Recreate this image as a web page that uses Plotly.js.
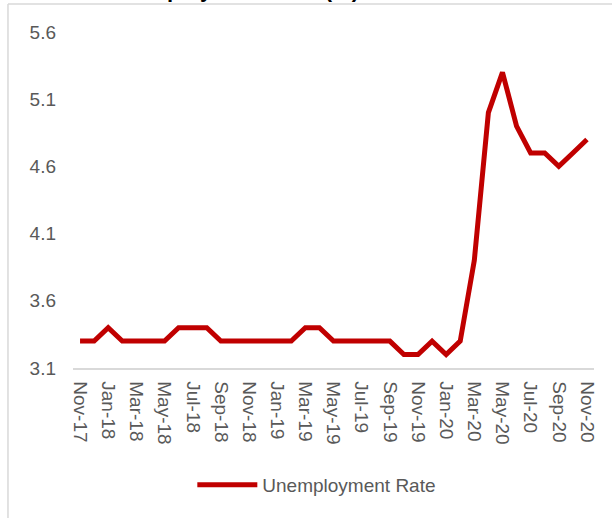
<!DOCTYPE html>
<html>
<head>
<meta charset="utf-8">
<script src="https://cdn.plot.ly/plotly-3.0.1.min.js"></script>
<style>
  html, body { margin: 0; padding: 0; background: #ffffff; }
  #chart { width: 612px; height: 518px; }
</style>
</head>
<body>
<div id="chart"></div>
<script>
const months = [
  "Nov-17","Dec-17","Jan-18","Feb-18","Mar-18","Apr-18","May-18","Jun-18","Jul-18","Aug-18",
  "Sep-18","Oct-18","Nov-18","Dec-18","Jan-19","Feb-19","Mar-19","Apr-19","May-19","Jun-19",
  "Jul-19","Aug-19","Sep-19","Oct-19","Nov-19","Dec-19","Jan-20","Feb-20","Mar-20","Apr-20",
  "May-20","Jun-20","Jul-20","Aug-20","Sep-20","Oct-20","Nov-20"
];
const unemploymentRate = [
  3.3, 3.3, 3.4, 3.3, 3.3, 3.3, 3.3, 3.4, 3.4, 3.4,
  3.3, 3.3, 3.3, 3.3, 3.3, 3.3, 3.4, 3.4, 3.3, 3.3,
  3.3, 3.3, 3.3, 3.2, 3.2, 3.3, 3.2, 3.3, 3.9, 5.0,
  5.3, 4.9, 4.7, 4.7, 4.6, 4.7, 4.8
];
const yTicks = [3.1, 3.6, 4.1, 4.6, 5.1, 5.6];
const xTickLabels = months.filter((m, i) => i % 2 === 0);
const seriesName = "Unemployment Rate";
const chartTitle = "Unemployment Rate (%)";

const FONT = '"Liberation Sans", Arial, sans-serif';
const GREY = '#595959';

const trace = {
  type: 'scatter',
  mode: 'lines',
  x: months,
  y: unemploymentRate,
  name: seriesName,
  line: { color: '#C00000', width: 5, shape: 'linear' },
  showlegend: true
};

const layout = {
  width: 612,
  height: 518,
  margin: { l: 73, r: 18, t: 32, b: 150 },
  paper_bgcolor: '#ffffff',
  plot_bgcolor: '#ffffff',
  font: { family: FONT, size: 19, color: GREY },
  showlegend: true,
  xaxis: {
    type: 'category',
    categoryorder: 'array',
    categoryarray: months,
    range: [-0.5, months.length - 0.5],
    tickmode: 'array',
    tickvals: xTickLabels,
    ticktext: xTickLabels,
    tickangle: 90,
    ticks: '',
    showgrid: false,
    zeroline: false,
    showline: true,
    linecolor: '#d9d9d9',
    linewidth: 1.5,
    ticklabelstandoff: 8,
    tickfont: { family: FONT, size: 19, color: GREY }
  },
  yaxis: {
    range: [3.1, 5.6],
    tickmode: 'array',
    tickvals: yTicks,
    ticktext: yTicks.map(v => v.toFixed(1)),
    ticks: '',
    showgrid: false,
    zeroline: false,
    showline: false,
    ticklabelstandoff: 16,
    tickfont: { family: FONT, size: 19, color: GREY }
  },
  legend: {
    orientation: 'h',
    x: 0.468,
    xanchor: 'center',
    y: -0.348,
    yanchor: 'middle',
    itemwidth: 60,
    font: { family: FONT, size: 19, color: GREY },
    bgcolor: 'rgba(0,0,0,0)'
  },
  annotations: [{
    text: '<b>' + chartTitle + '</b>',
    xref: 'paper', yref: 'paper',
    x: 0.307, y: 1.127,
    xanchor: 'center', yanchor: 'middle',
    showarrow: false,
    font: { family: FONT, size: 22, color: '#000000' }
  }],
  shapes: [
    { type: 'line', xref: 'paper', yref: 'paper', x0: -0.1248, x1: -0.1248, y0: -0.6, y1: 1.0833,
      line: { color: '#d9d9d9', width: 1.5 } },
    { type: 'line', xref: 'paper', yref: 'paper', x0: -0.1248, x1: 1.2, y0: 1.0833, y1: 1.0833,
      line: { color: '#d9d9d9', width: 1.5 } }
  ]
};

Plotly.newPlot('chart', [trace], layout, { displayModeBar: false, staticPlot: true });
</script>
</body>
</html>
